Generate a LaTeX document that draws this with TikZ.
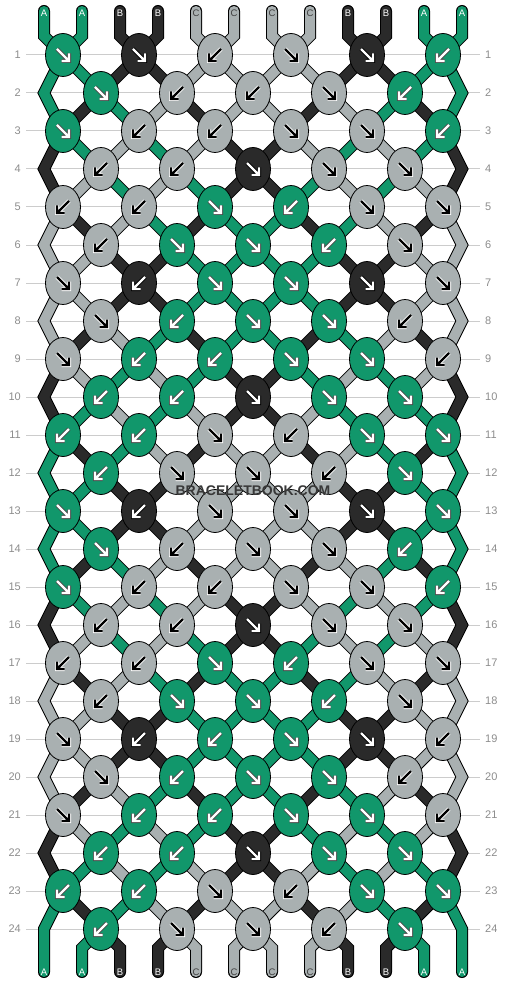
\documentclass[tikz,border=0pt]{standalone}
\usepackage{fontspec}
\setmainfont{Liberation Sans}
\usetikzlibrary{shapes.geometric,backgrounds}

\definecolor{colA}{HTML}{11976B}
\definecolor{colB}{HTML}{2A2A2A}
\definecolor{colC}{HTML}{A9B0B1}
\colorlet{arrA}{white}\colorlet{arrB}{white}\colorlet{arrC}{black}
\colorlet{halA}{black!70}\colorlet{halB}{black}\colorlet{halC}{white}
\colorlet{txtA}{white}\colorlet{txtB}{white}\colorlet{txtC}{black!75}

% thread order after each row (row mod 12), 1=A 2=B 3=C
\def\strtab{{1,1,2,2,3,3,3,3,2,2,1,1,
             1,1,2,2,3,3,3,3,2,2,1,1,
             1,2,1,3,2,3,3,2,3,1,2,1,
             2,1,3,1,3,2,2,3,1,3,1,2,
             2,3,1,3,1,2,2,1,3,1,3,2,
             3,2,3,1,2,1,1,2,1,3,2,3,
             3,3,2,2,1,1,1,1,2,2,3,3,
             3,3,2,2,1,1,1,1,2,2,3,3,
             3,2,3,1,2,1,1,2,1,3,2,3,
             2,3,1,3,1,2,2,1,3,1,3,2,
             2,1,3,1,3,2,2,3,1,3,1,2,
             1,2,1,3,2,3,3,2,3,1,2,1}}
\newcommand\threadcol[1]{\ifcase#1\or A\or B\or C\fi}

\tikzset{knot/.style={ellipse,draw=black,line width=0.8pt,minimum width=35pt,minimum height=43pt,inner sep=0pt},
         thread/.style={draw=black,line width=1pt,double=#1,double distance=10pt,line cap=round,line join=miter},
         rowline/.style={draw=black!20,line width=1pt},
         rownum/.style={text=black!45,inner sep=0pt,font=\fontsize{11}{11}\selectfont},
         strlabel/.style={inner sep=0pt,font=\fontsize{9.5}{9.5}\selectfont},
         knotarrow/.style={line width=#1,line cap=butt,line join=miter},
            }

\begin{document}
\begin{tikzpicture}[x=1pt,y=-1pt]
    \useasboundingbox (0,0) rectangle (506,984);

    % knots
    \foreach \r/\row in {1/{A/R,B/R,C/L,C/R,B/R,A/L},
                         2/{A/R,C/L,C/L,C/R,A/L},
                         3/{A/R,C/L,C/L,C/R,C/R,A/L},
                         4/{C/L,C/L,B/R,C/R,C/R},
                         5/{C/L,C/L,A/R,A/L,C/R,C/R},
                         6/{C/L,A/R,A/R,A/L,C/R},
                         7/{C/R,B/L,A/R,A/R,B/R,C/R},
                         8/{C/R,A/L,A/R,A/R,C/L},
                         9/{C/R,A/L,A/L,A/R,A/R,C/L},
                         10/{A/L,A/L,B/R,A/R,A/R},
                         11/{A/L,A/L,C/R,C/L,A/R,A/R},
                         12/{A/L,C/R,C/R,C/L,A/R},
                         13/{A/R,B/L,C/R,C/R,B/R,A/R},
                         14/{A/R,C/L,C/R,C/R,A/L},
                         15/{A/R,C/L,C/L,C/R,C/R,A/L},
                         16/{C/L,C/L,B/R,C/R,C/R},
                         17/{C/L,C/L,A/R,A/L,C/R,C/R},
                         18/{C/L,A/R,A/R,A/L,C/R},
                         19/{C/R,B/L,A/L,A/R,B/R,C/L},
                         20/{C/R,A/L,A/R,A/R,C/L},
                         21/{C/R,A/L,A/L,A/R,A/R,C/L},
                         22/{A/L,A/L,B/R,A/R,A/R},
                         23/{A/L,A/L,C/R,C/L,A/R,A/R},
                         24/{A/L,C/R,C/R,C/L,A/R}}{
        \pgfmathtruncatemacro\xo{mod(\r,2)==1 ? 63 : 101}
        \pgfmathsetmacro\yy{55+38*(\r-1)}
        \node[rownum,anchor=east] (nl-\r) at (21,\yy) {\r};
        \node[rownum,anchor=west] (nr-\r) at (485,\yy) {\r};
        \ifodd\r\else
            \coordinate (k-\r-0) at (44,\yy);
            \coordinate (k-\r-6) at (462,\yy);
        \fi
        \foreach \c/\d [count=\j] in \row {
            \node[knot,fill=col\c] (k-\r-\j) at ({\xo+76*(\j-1)},\yy) {};
            \if R\d \def\sx{1}\else \def\sx{-1}\fi
            \draw[knotarrow=4pt,draw=hal\c,shift={(k-\r-\j.center)},xscale=\sx]
                (-6,-6) -- (6,6) (6,-1.5) -- (6,6) -- (-1.5,6);
            \draw[knotarrow=2.2pt,draw=arr\c,shift={(k-\r-\j.center)},xscale=\sx]
                (-6,-6) -- (6,6) (6,-1.5) -- (6,6) -- (-1.5,6);
        }
    }

    % thread ends and letters
    \foreach \i/\c in {1/A,2/A,3/B,4/B,5/C,6/C,7/C,8/C,9/B,10/B,11/A,12/A}{
        \pgfmathsetmacro\xx{44+38*(\i-1)}
        \coordinate (top-\i) at (\xx,11);
        \coordinate (topk-\i) at (\xx,36);
        \coordinate (bot-\i) at (\xx,972);
        \coordinate (botk-\i) at (\xx,948);
        \node[strlabel,text=txt\c] (lt-\i) at (\xx,13) {\c};
        \node[strlabel,text=txt\c] (lb-\i) at (\xx,972) {\c};
    }
    \coordinate (botk-1) at (44,929);
    \coordinate (botk-12) at (462,929);

    \node[font=\bfseries\fontsize{14}{14}\selectfont,text=black!78] (mark) at (253,491) {BRACELETBOOK.COM};

    \begin{scope}[on background layer]
        \foreach \r in {1,...,24}
            \draw[rowline] ([xshift=5pt]nl-\r.east) -- ([xshift=-5pt]nr-\r.west);

        % top and bottom
        \foreach \i in {1,...,12}{
            \pgfmathtruncatemacro\n{\strtab[\i-1]}
            \pgfmathtruncatemacro\j{(\i+1)/2}
            \draw[thread=col\threadcol{\n}] (top-\i) -- (topk-\i) -- (k-1-\j.center);
        }
        \foreach \i in {2,...,11}{
            \pgfmathtruncatemacro\n{\strtab[\i-1]}
            \pgfmathtruncatemacro\j{\i/2}
            \draw[thread=col\threadcol{\n}] (k-24-\j.center) -- (botk-\i) -- (bot-\i);
        }
        \draw[thread=colA] (k-23-1.center) -- (botk-1) -- (bot-1);
        \draw[thread=colA] (k-23-6.center) -- (botk-12) -- (bot-12);

        % edges
        \foreach \r in {1,3,...,21}{
            \pgfmathtruncatemacro\ra{\r+1}
            \pgfmathtruncatemacro\rb{\r+2}
            \pgfmathtruncatemacro\m{mod(\r,12)}
            \pgfmathtruncatemacro\n{\strtab[\m*12]}
            \draw[thread=col\threadcol{\n}] (k-\r-1.center) -- (k-\ra-0) -- (k-\rb-1.center);
            \pgfmathtruncatemacro\n{\strtab[\m*12+11]}
            \draw[thread=col\threadcol{\n}] (k-\r-6.center) -- (k-\ra-6) -- (k-\rb-6.center);
        }

        % inner threads
        \foreach \r in {1,...,23}{
            \pgfmathtruncatemacro\rn{\r+1}
            \pgfmathtruncatemacro\m{mod(\r,12)}
            \foreach \i in {2,...,11}{
                \pgfmathtruncatemacro\ja{(\i+mod(\r,2))/2}
                \pgfmathtruncatemacro\jb{(\i+mod(\rn,2))/2}
                \pgfmathtruncatemacro\n{\strtab[\m*12+\i-1]}
                \draw[thread=col\threadcol{\n}] (k-\r-\ja.center) -- (k-\rn-\jb.center);
            }
        }
    \end{scope}
\end{tikzpicture}
\end{document}
